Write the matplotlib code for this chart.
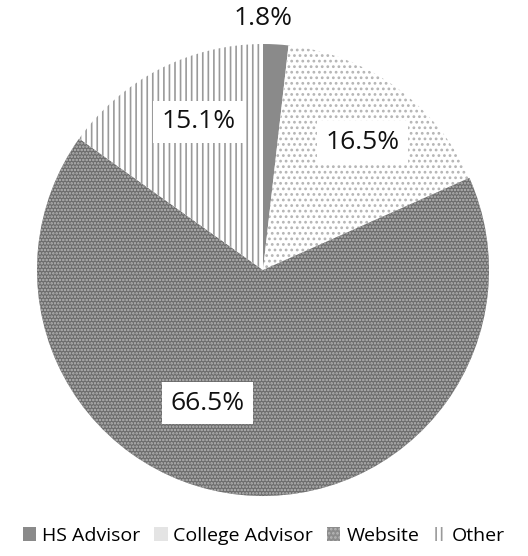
import matplotlib.pyplot as plt
from matplotlib.patches import Patch

plt.rcParams['font.family'] = ['Open Sans', 'DejaVu Sans']
plt.rcParams['hatch.linewidth'] = 1.2

sources = ['HS Advisor', 'College Advisor', 'Website', 'Other']
shares = [1.8, 16.5, 66.5, 15.1]

# fill style per slice: face, hatch colour, hatch pattern
faces = ['#8a8a8a', 'white', '#6c6c6c', 'white']
hatch_cols = ['#8a8a8a', '#b5b5b5', '#b8b8b8', '#9a9a9a']
hatches = [None, '...', '.....', '|||']

# where each percentage box sits (pie radius = 1)
label_xy = [(0.0, 1.115), (0.44, 0.565), (-0.245, -0.59), (-0.285, 0.655)]

fig = plt.figure(figsize=(5.28, 5.56), dpi=100)
ax = fig.add_axes([37 / 528, 60 / 556, 452 / 528, 452 / 556])

wedges, _ = ax.pie(shares, startangle=90, counterclock=False, radius=1,
                   colors=faces, wedgeprops=dict(linewidth=0))
for w, h, hc in zip(wedges, hatches, hatch_cols):
    w.set_edgecolor(hc)
    if h:
        w.set_hatch(h)

for (x, y), v in zip(label_xy, shares):
    box = None if y > 1 else dict(facecolor='white', edgecolor='none', pad=6)
    ax.text(x, y, f'{v}%', ha='center', va='center', fontsize=19,
            color='#111111', bbox=box)

ax.set_xlim(-1, 1)
ax.set_ylim(-1, 1)
ax.set_aspect('auto')
ax.axis('off')

# legend swatches
swatch_faces = ['#8a8a8a', '#e4e4e4', '#8c8c8c', 'white']
swatch_hatch = [None, None, '....', '|||']
handles = [Patch(facecolor=f, edgecolor=hc, hatch=h, linewidth=0)
           for f, hc, h in zip(swatch_faces, hatch_cols, swatch_hatch)]
fig.legend(handles, sources, loc='center', bbox_to_anchor=(0.5, 20 / 556),
           ncol=4, frameon=False, fontsize=14, handlelength=0.7,
           handleheight=0.7, handletextpad=0.3, columnspacing=0.7,
           borderpad=0, borderaxespad=0)

fig.savefig('out.png', dpi=100)
